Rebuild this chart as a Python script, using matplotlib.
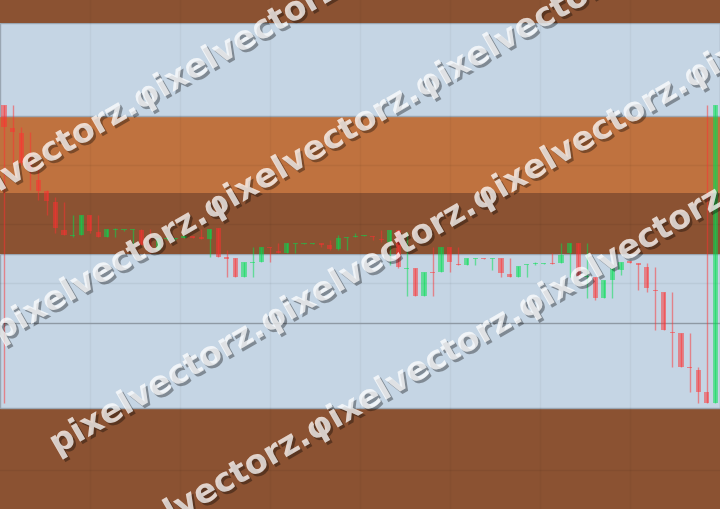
import numpy as np
import matplotlib
matplotlib.use("Agg")
import matplotlib.pyplot as plt
import matplotlib.patheffects as pe

# ---------------- data ----------------
opens = [395, 372, 367, 337, 320, 309, 298, 270, 264, 265, 285, 268, 263, 270, 270, 270, 270, 255, 250, 261,
         261, 262, 264, 263, 261, 272, 243, 242, 223, 237, 238, 253, 249, 247, 256, 256, 256, 257, 255, 251,
         262, 263, 264, 264, 261, 258, 270, 231, 232, 204, 228, 228, 253, 236, 235, 241, 242, 241, 242, 226,
         223, 235, 236, 236, 237, 237, 247, 257, 223, 223, 202, 220, 230, 239, 237, 233, 210, 208, 168, 167,
         133, 130, 108, 97]
highs = [395, 395, 373, 368, 333, 310, 303, 298, 285, 285, 285, 285, 271, 272, 271, 271, 271, 271, 262, 263,
         262, 265, 264, 271, 271, 272, 250, 242, 238, 253, 253, 253, 257, 257, 257, 257, 257, 257, 260, 265,
         263, 267, 265, 264, 270, 270, 270, 268, 232, 228, 253, 253, 253, 253, 242, 242, 242, 242, 242, 242,
         234, 236, 238, 237, 247, 257, 257, 257, 257, 223, 220, 232, 238, 239, 237, 237, 233, 208, 208, 167,
         167, 133, 395, 395]
lows = [97, 337, 335, 310, 300, 285, 267, 265, 263, 265, 267, 263, 263, 263, 269, 255, 255, 247, 250, 260,
        260, 262, 262, 261, 243, 243, 223, 223, 223, 223, 238, 238, 247, 247, 247, 256, 256, 253, 250, 250,
        250, 263, 264, 260, 258, 235, 232, 204, 204, 204, 204, 228, 228, 235, 235, 235, 241, 230, 223, 223,
        223, 223, 235, 236, 236, 237, 223, 224, 202, 200, 202, 202, 225, 237, 210, 208, 170, 170, 133, 133,
        108, 97, 97, 97]
closes = [373, 368, 337, 330, 309, 299, 272, 265, 265, 285, 269, 263, 271, 271, 271, 271, 255, 250, 262, 262,
          262, 264, 262, 261, 271, 243, 241, 223, 238, 238, 253, 252, 247, 257, 257, 257, 257, 255, 251, 262,
          263, 264, 265, 263, 260, 270, 233, 232, 204, 228, 227, 253, 238, 235, 242, 242, 241, 242, 227, 223,
          234, 236, 237, 237, 236, 245, 257, 224, 224, 202, 220, 232, 238, 237, 235, 212, 209, 170, 167, 133,
          132, 108, 97, 395]

# background zones (price ranges) and their colours
zone_lo = [-9, 92, 246, 307, 384, 477]
zone_hi = [92, 246, 307, 384, 477, 500]
zone_col = ["#8b5232", "#c5d5e4", "#8b5232", "#bf723f", "#c5d5e4", "#8b5232"]
ref_level = 177
grid_levels = [335, 276, 217, 30]

watermark = "pixelvectorz.\u03c6ixelvectorz.\u03c6ixelvectorz.\u03c6ixelvectorz."

# ---------------- figure ----------------
W, H = 7.2, 5.09
fig = plt.figure(figsize=(W, H), dpi=100)
ax = fig.add_axes([0, 0, 1, 1])
n = len(opens)
step = 8.57
x0 = -4 / step
ax.set_xlim(x0, x0 + 720 / step)
ax.set_ylim(-9, 500)
ax.axis("off")

for lo, hi, c in zip(zone_lo, zone_hi, zone_col):
    light = c == "#c5d5e4"
    ax.axhspan(lo, hi, facecolor=c, edgecolor="#9aa6b2" if light else "none",
               linewidth=1 if light else 0, zorder=0)

for g in grid_levels:
    ax.axhline(g, color="black", alpha=0.05, lw=1, zorder=1)
for gx in np.arange(90, 720, 90):
    ax.axvline(x0 + gx / step, color="black", alpha=0.035, lw=1, zorder=1)
ax.axhline(ref_level, color="#8e99a4", lw=1, zorder=1)

o = np.array(opens, float)
c = np.array(closes, float)
h = np.array(highs, float)
l = np.array(lows, float)
xs = np.arange(n)
up = c >= o
cols = np.where(up, "#00e050", "#ff3030")
bottom = np.minimum(o, c)
height = np.maximum(np.abs(c - o), 1.5)
ax.vlines(xs, l, h, colors=cols, lw=1, alpha=0.5, zorder=2)
ax.bar(xs, height, bottom=bottom, width=0.6, color=cols, alpha=0.5, linewidth=0, zorder=3)

# ---------------- watermark ----------------
angle = 30
starts = [(57, 455), (0, 342), (-70, 232), (103, 563)]
for sx, sy in starts:
    fig.text(sx / 720, 1 - sy / 509, watermark, rotation=angle, rotation_mode="anchor",
             ha="left", va="baseline", fontsize=24, fontweight="bold",
             family="DejaVu Sans", color="white", alpha=0.5, zorder=10,
             path_effects=[pe.withSimplePatchShadow(offset=(1.8, -1.8), shadow_rgbFace="black", alpha=0.35),
                           pe.Normal()])

fig.savefig("out.png", dpi=100)
